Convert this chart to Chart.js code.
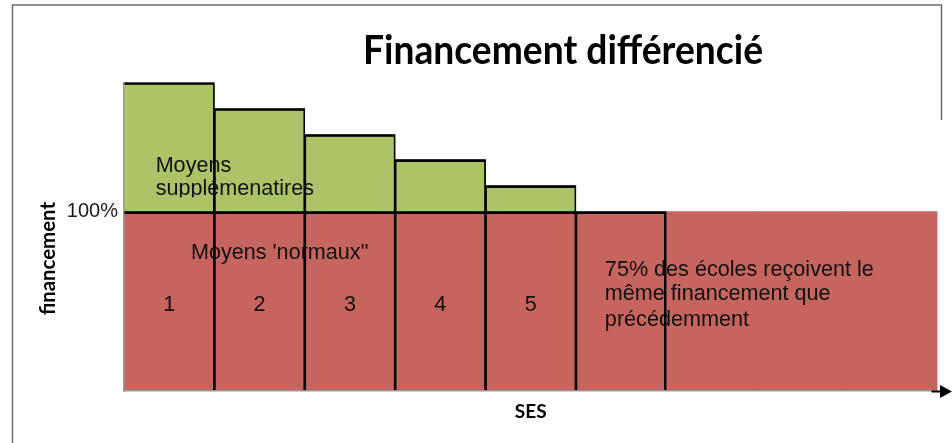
<!DOCTYPE html>
<html>
<head>
<meta charset="utf-8">
<script src="https://cdn.jsdelivr.net/npm/chart.js@4.4.0/dist/chart.umd.min.js"></script>
<style>
    html, body { margin: 0; padding: 0; background: #fff; }
</style>
</head>
<body>
<canvas id="graficoFinancement" width="952" height="443"></canvas>
<script>
// catégories SES (9 colonnes de même largeur)
const categories = ['1', '2', '3', '4', '5', '6', '7', '8', '9'];
const numerosBarres = ['1', '2', '3', '4', '5'];
// financement de base (100%) et moyens supplémentaires
const moyensNormaux = [100, 100, 100, 100, 100, 100, 100, 100, 100];
const moyensSupp = [72, 57.5, 43, 29, 14.5, null, null, null, null];
const yTicks = [100];
const yMax = 172;

const titre = 'Financement différencié';
const titreY = 'financement';
const titreX = 'SES';
const texteSupp = ['Moyens', 'supplémenatires'];
const texteNormaux = "Moyens 'normaux\"";
const texte75 = ['75% des écoles reçoivent le', 'même financement que', 'précédemment'];

const ROUGE = '#c6645e';
const VERT = '#adc367';
const GRIS = '#9a9a9a';

document.addEventListener("DOMContentLoaded", function () {
    f_financement();
});

// texte comprimé horizontalement pour tenir dans la largeur voulue
function texteAjuste(ctx, txt, x, y, largeur) {
    const w = ctx.measureText(txt).width;
    const s = largeur / w;
    ctx.save();
    ctx.translate(x, y);
    ctx.scale(s, 1);
    ctx.fillText(txt, 0, 0);
    ctx.restore();
}

const pluginDecor = {
    id: 'decor',
    afterDatasetsDraw(chart) {
        const ctx = chart.ctx;
        const sx = chart.scales.x;
        const sy = chart.scales.y;
        ctx.save();
        ctx.fillStyle = '#111';
        ctx.font = '21.6px "Liberation Sans", Arial, sans-serif';
        ctx.textBaseline = 'alphabetic';
        ctx.textAlign = 'left';

        // "Moyens supplémenatires" coupé en bas
        ctx.save();
        ctx.beginPath();
        ctx.rect(0, 0, chart.width, sy.getPixelForValue(108));
        ctx.clip();
        ctx.fillText(texteSupp[0], sx.getPixelForValue(-0.15), sy.getPixelForValue(122.3));
        ctx.fillText(texteSupp[1], sx.getPixelForValue(-0.15), sy.getPixelForValue(109.3));
        ctx.restore();

        ctx.fillText(texteNormaux, sx.getPixelForValue(0.24), sy.getPixelForValue(73.4));
        const base75 = [64.1, 50.7, 36.2];
        texte75.forEach((t, i) => ctx.fillText(t, sx.getPixelForValue(4.82), sy.getPixelForValue(base75[i])));

        ctx.textAlign = 'center';
        numerosBarres.forEach((n, i) => ctx.fillText(n, sx.getPixelForValue(i), sy.getPixelForValue(44.8)));
        ctx.restore();

        // les bordures des barres passent par-dessus le texte
        chart.data.datasets.forEach((ds, i) => {
            chart.getDatasetMeta(i).data.forEach(el => {
                if (el.skip) return;
                const o = el.options;
                el.options = Object.assign({}, o, { backgroundColor: 'rgba(0,0,0,0)' });
                el.draw(ctx);
                el.options = o;
            });
        });
    },
    afterDraw(chart) {
        const ctx = chart.ctx;
        const area = chart.chartArea;
        ctx.save();
        // cadre
        ctx.strokeStyle = '#6b6b6b';
        ctx.lineWidth = 1.5;
        ctx.beginPath();
        ctx.moveTo(12.5, 443);
        ctx.lineTo(12.5, 5);
        ctx.lineTo(941.5, 5);
        ctx.lineTo(941.5, 120);
        ctx.stroke();

        // flèche de l'axe SES
        const yb = area.bottom + 0.5;
        ctx.strokeStyle = '#000';
        ctx.lineWidth = 2;
        ctx.beginPath();
        ctx.moveTo(area.right - 6, yb);
        ctx.lineTo(942, yb);
        ctx.stroke();
        ctx.fillStyle = '#000';
        ctx.beginPath();
        ctx.moveTo(940, yb - 6.5);
        ctx.lineTo(952, yb);
        ctx.lineTo(940, yb + 6.5);
        ctx.closePath();
        ctx.fill();

        // titre
        ctx.fillStyle = '#000';
        ctx.textBaseline = 'alphabetic';
        ctx.textAlign = 'left';
        ctx.font = 'bold 41px Lato, "Open Sans", sans-serif';
        texteAjuste(ctx, titre, 363, 64, 400);

        // titres des axes
        ctx.font = 'bold 20px Lato, "Open Sans", sans-serif';
        ctx.save();
        ctx.translate(55, 258.5);
        ctx.rotate(-Math.PI / 2);
        ctx.textAlign = 'left';
        texteAjuste(ctx, titreY, -56.5, 0, 113);
        ctx.restore();

        ctx.textAlign = 'center';
        ctx.font = 'bold 19px Lato, "Open Sans", sans-serif';
        ctx.fillText(titreX, (area.left + area.right) / 2, 418);
        ctx.restore();
    }
};

function bordure(top, c) {
    return {
        top: top,
        left: c.dataIndex === 0 ? 0 : 1,
        right: c.dataIndex === 5 ? 2 : 1,
        bottom: 0
    };
}

function f_financement() {
    const ctx = document.getElementById('graficoFinancement').getContext('2d');
    new Chart(ctx, {
        type: 'bar',
        data: {
            labels: categories,
            datasets: [
                {
                    label: "Moyens 'normaux'",
                    data: moyensNormaux,
                    backgroundColor: ROUGE,
                    borderColor: '#000',
                    borderWidth: c => c.dataIndex < 6 ? bordure(2, c) : 0,
                    borderSkipped: false
                },
                {
                    label: 'Moyens supplémentaires',
                    data: moyensSupp,
                    backgroundColor: VERT,
                    borderColor: '#000',
                    borderWidth: c => bordure(2, c),
                    borderSkipped: false
                }
            ]
        },
        plugins: [pluginDecor],
        options: {
            responsive: false,
            animation: false,
            devicePixelRatio: 1,
            barPercentage: 1,
            categoryPercentage: 1,
            layout: {
                padding: { left: 0, right: 14.5, top: 82.5, bottom: 52 }
            },
            plugins: {
                legend: { display: false },
                title: { display: false },
                tooltip: { enabled: false }
            },
            scales: {
                x: {
                    stacked: true,
                    grid: { display: false, drawTicks: false },
                    ticks: { display: false },
                    border: { display: true, color: GRIS, width: 1.5, z: 1 },
                    afterFit: s => { s.height = 0; }
                },
                y: {
                    stacked: true,
                    min: 0,
                    max: yMax,
                    grid: { display: false, drawTicks: false },
                    border: { display: true, color: GRIS, width: 1.5, z: 1 },
                    afterBuildTicks: s => { s.ticks = yTicks.map(v => ({ value: v })); },
                    afterFit: s => { s.width = 124; },
                    ticks: {
                        padding: 6,
                        color: '#1a1a1a',
                        font: { family: '"Liberation Sans", Arial, sans-serif', size: 20 },
                        callback: v => v + '%'
                    }
                }
            }
        }
    });
}
</script>
</body>
</html>
